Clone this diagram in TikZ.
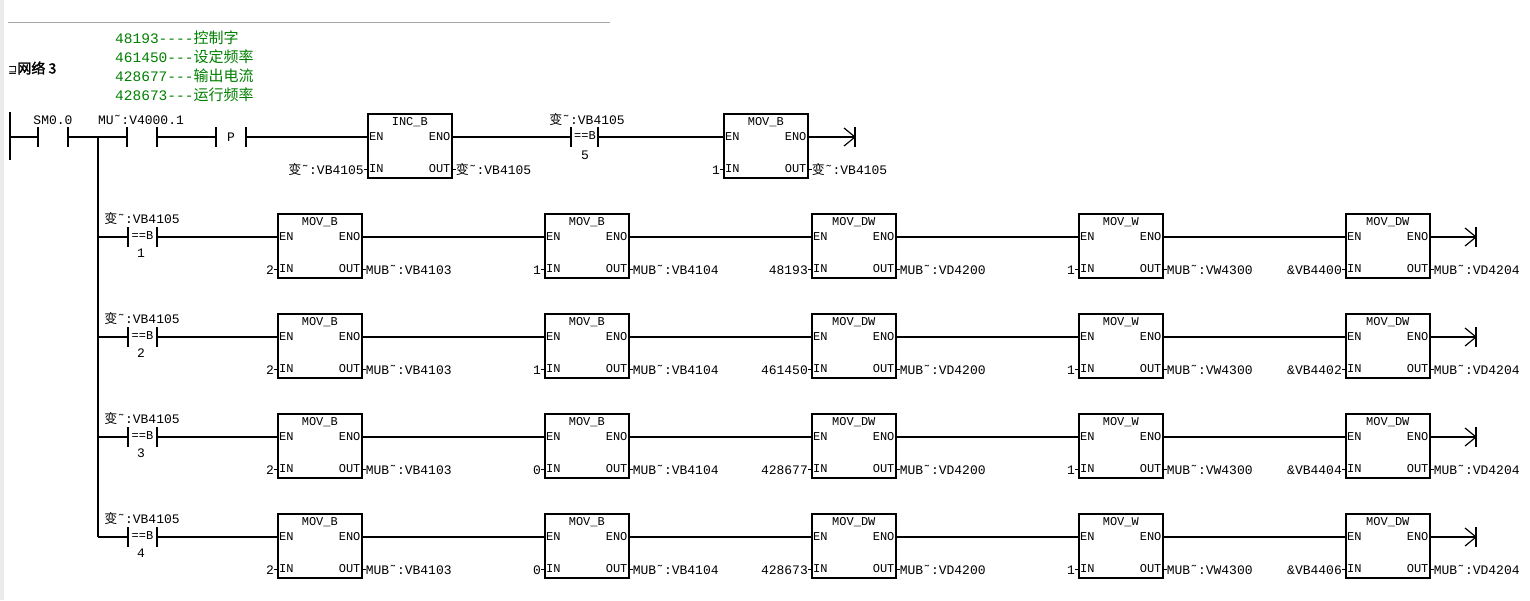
\documentclass[tikz,border=0pt]{standalone}
\usepackage{fontspec}
\setmonofont{Liberation Mono}
\newfontfamily\cjk[AutoFakeBold=2]{Noto Sans CJK SC}
\newfontfamily\djv{DejaVu Sans}
\usetikzlibrary{calc}
\newcommand\bianv{{\cjk 变}˜}
\definecolor{grn}{RGB}{0,128,0}
\begin{document}
\begin{tikzpicture}[x=1pt,y=-1pt,
 box/.style={draw,line width=1.6pt,minimum width=84pt,minimum height=64pt,inner sep=0,anchor=north west},
 wire/.style={line width=1.6pt},
 t/.style={font=\ttfamily\fontsize{13}{13}\selectfont,inner sep=0},
 s/.style={font=\ttfamily\fontsize{12}{12}\selectfont,inner sep=0}]
\fill[white] (0,0) rectangle (1530,600);
\fill[black!8] (0,0) rectangle (4,600);
\draw[black!35,line width=0.8pt] (8,22) -- (610,22);
% comments
\foreach \n/\c [count=\i] in {48193----/控制字,461450---/设定频率,428677---/输出电流,428673---/运行频率}
  \node[inner sep=0,text=grn,anchor=west,font=\ttfamily\fontsize{14.5}{14.5}\selectfont] at (115,18+19.3*\i) {\n{\cjk\fontsize{15}{15}\selectfont \c}};
\node[anchor=west,inner sep=0] at (8,68) {{\djv\fontsize{11}{11}\selectfont ⊒}{\cjk\bfseries\fontsize{14}{14}\selectfont 网络 3}};
% rail
\draw[wire] (10,112) -- (10,160);
\coordinate (rail) at (10,137);
% SM0.0
\coordinate (sa) at (38,137); \coordinate (sb) at (68,137);
\draw[wire] (rail) -- (sa); \draw[wire] ($(sa)+(0,-10)$) -- ($(sa)+(0,10)$); \draw[wire] ($(sb)+(0,-10)$) -- ($(sb)+(0,10)$);
\node[t] at (53,120) {SM0.0};
\coordinate (br) at (98,137);
\coordinate (ma) at (127,137); \coordinate (mb) at (157,137);
\draw[wire] (sb) -- (ma); \draw[wire] ($(ma)+(0,-10)$) -- ($(ma)+(0,10)$); \draw[wire] ($(mb)+(0,-10)$) -- ($(mb)+(0,10)$);
\node[t] at (141,120) {MU˜:V4000.1};
\coordinate (pa) at (216,137); \coordinate (pb) at (246,137);
\draw[wire] (mb) -- (pa); \draw[wire] ($(pa)+(0,-10)$) -- ($(pa)+(0,10)$); \draw[wire] ($(pb)+(0,-10)$) -- ($(pb)+(0,10)$);
\node[t] at (231,137) {P};
% INC_B
\node[box] (inc) at (367,113) {};
\node[s] at ($(inc.north)+(0,9)$) {INC\_B};
\node[s,anchor=west] at ($(inc.north west)+(2,24)$) {EN};
\node[s,anchor=east] at ($(inc.north east)+(-2,24)$) {ENO};
\node[s,anchor=west] at ($(inc.north west)+(2,56)$) {IN};
\node[s,anchor=east] at ($(inc.north east)+(-2,56)$) {OUT};
\draw[wire] (pb) -- ($(inc.north west)+(0,24)$);
\draw[line width=0.8pt] ($(inc.north west)+(-3,56)$) -- ($(inc.north west)+(0,56)$);
\draw[line width=0.8pt] ($(inc.north east)+(0,56)$) -- ($(inc.north east)+(3,56)$);
\node[t,anchor=east] at ($(inc.north west)+(-3,57)$) {\bianv:VB4105};
\node[t,anchor=west] at ($(inc.north east)+(3,57)$) {\bianv:VB4105};
% compare 5
\coordinate (ca) at (571,137); \coordinate (cb) at (598,137);
\draw[wire] ($(inc.north east)+(0,24)$) -- (ca);
\draw[wire] ($(ca)+(0,-10)$) -- ($(ca)+(0,10)$); \draw[wire] ($(cb)+(0,-10)$) -- ($(cb)+(0,10)$);
\node[s] at (585,136) {==B};
\node[t] at (587,120) {\bianv:VB4105};
\node[t] at (585,155) {5};
% MOV_B top
\node[box] (mv) at (723,113) {};
\node[s] at ($(mv.north)+(0,9)$) {MOV\_B};
\node[s,anchor=west] at ($(mv.north west)+(2,24)$) {EN};
\node[s,anchor=east] at ($(mv.north east)+(-2,24)$) {ENO};
\node[s,anchor=west] at ($(mv.north west)+(2,56)$) {IN};
\node[s,anchor=east] at ($(mv.north east)+(-2,56)$) {OUT};
\draw[wire] (cb) -- ($(mv.north west)+(0,24)$);
\draw[line width=0.8pt] ($(mv.north west)+(-3,56)$) -- ($(mv.north west)+(0,56)$);
\draw[line width=0.8pt] ($(mv.north east)+(0,56)$) -- ($(mv.north east)+(3,56)$);
\node[t,anchor=east] at ($(mv.north west)+(-3,57)$) {1};
\node[t,anchor=west] at ($(mv.north east)+(3,57)$) {\bianv:VB4105};
\coordinate (e0) at (855,137);
\draw[wire] ($(mv.north east)+(0,24)$) -- (e0);
\draw[line width=1.2pt] ($(e0)+(-11,-9)$) -- (e0) -- ($(e0)+(-11,9)$);
\draw[line width=1.6pt] ($(e0)+(0,-10)$) -- ($(e0)+(0,10)$);
% branch
\coordinate (bb) at (98,537);
\draw[wire] (br) -- (bb);
% rows
\foreach \r/\va/\vc/\ve in {1/1/48193/\&VB4400,2/1/461450/\&VB4402,3/0/428677/\&VB4404,4/0/428673/\&VB4406}{
 \pgfmathsetmacro\Y{237+100*(\r-1)}
 \coordinate (r\r) at (98,\Y);
 \coordinate (ka\r) at (128,\Y); \coordinate (kb\r) at (157,\Y);
 \draw[wire] (r\r) -- (ka\r);
 \draw[wire] ($(ka\r)+(0,-10)$) -- ($(ka\r)+(0,10)$); \draw[wire] ($(kb\r)+(0,-10)$) -- ($(kb\r)+(0,10)$);
 \node[s] at ($(ka\r)!0.5!(kb\r)+(0,-1)$) {==B};
 \node[t] at (142,\Y-18) {\bianv:VB4105};
 \node[t] at (141,\Y+16) {\r};
 \foreach \bx/\ti/\inv/\outv [count=\k] in {277/MOV\_B/2/MUB˜:VB4103, 544/MOV\_B/\va/MUB˜:VB4104, 811/MOV\_DW/\vc/MUB˜:VD4200, 1078/MOV\_W/1/MUB˜:VW4300, 1345/MOV\_DW/\ve/MUB˜:VD4204}{
  \node[box] (b\r\k) at (\bx,\Y-24) {};
  \node[s] at ($(b\r\k.north)+(0,9)$) {\ti};
  \node[s,anchor=west] at ($(b\r\k.north west)+(2,24)$) {EN};
  \node[s,anchor=east] at ($(b\r\k.north east)+(-2,24)$) {ENO};
  \node[s,anchor=west] at ($(b\r\k.north west)+(2,56)$) {IN};
  \node[s,anchor=east] at ($(b\r\k.north east)+(-2,56)$) {OUT};
  \draw[line width=0.8pt] ($(b\r\k.north west)+(-3,56)$) -- ($(b\r\k.north west)+(0,56)$);
  \draw[line width=0.8pt] ($(b\r\k.north east)+(0,56)$) -- ($(b\r\k.north east)+(3,56)$);
  \node[t,anchor=east] at ($(b\r\k.north west)+(-3,57)$) {\inv};
  \node[t,anchor=west] at ($(b\r\k.north east)+(3,57)$) {\outv};
 }
 \draw[wire] (kb\r) -- ($(b\r1.north west)+(0,24)$);
 \foreach \k [evaluate=\k as \kn using int(\k+1)] in {1,2,3,4}
   \draw[wire] ($(b\r\k.north east)+(0,24)$) -- ($(b\r\kn.north west)+(0,24)$);
 \coordinate (e\r) at (1476,\Y);
 \draw[wire] ($(b\r5.north east)+(0,24)$) -- (e\r);
 \draw[line width=1.2pt] ($(e\r)+(-11,-9)$) -- (e\r) -- ($(e\r)+(-11,9)$);
 \draw[line width=1.6pt] ($(e\r)+(0,-10)$) -- ($(e\r)+(0,10)$);
}
\end{tikzpicture}
\end{document}
